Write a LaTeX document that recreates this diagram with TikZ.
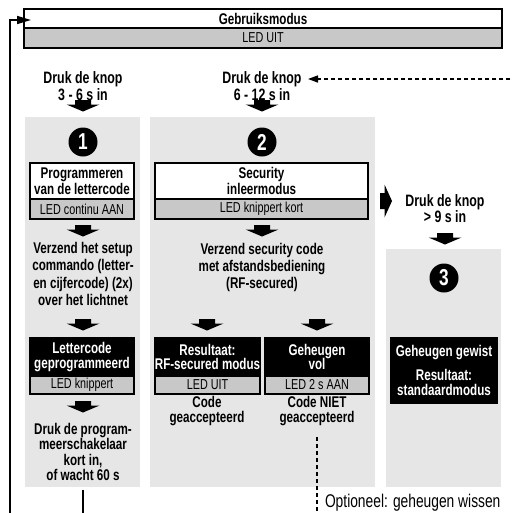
\documentclass[tikz,border=0pt]{standalone}
\usepackage{fontspec}
\setmainfont{Liberation Sans}[FakeStretch=0.75]
\usetikzlibrary{arrows.meta}
\definecolor{panelgray}{HTML}{E6E6E6}
\definecolor{ledgray}{HTML}{C8C8C8}
\newcommand\txtb[1]{\fontsize{15.5}{#1}\selectfont\bfseries}
\newcommand\txtk[1]{\fontsize{16.5}{#1}\selectfont\bfseries}
\newcommand\txtr{\fontsize{14.4}{15}\selectfont}
\begin{document}
\begin{tikzpicture}[x=1pt,y=-1pt,
 every node/.style={inner sep=0pt, outer sep=0pt},
 panel/.style={fill=panelgray},
 whitebox/.style={draw, line width=1.3pt, fill=white, align=center, font=\txtb{13.8}},
 blackbox/.style={draw, line width=1.3pt, fill=black, text=white, align=center, font=\txtb{14.8}},
 ledbox/.style={draw, line width=1.3pt, fill=ledgray, font=\txtr},
 txt/.style={align=center, font=\txtb{#1}},
 ktxt/.style={align=center, font=\txtk{#1}},
 numcirc/.style={circle, fill=black, text=white, minimum size=29pt, font=\fontsize{23}{23}\selectfont\bfseries},
 fb/.style={line width=1.6pt},
 dashline/.style={line width=1.5pt, dash pattern=on 4pt off 3pt},
 dnarrow/.pic={\fill (-8,0) -- (8,0) -- (8,4.5) -- (16.5,4.5) -- (0,11.5) -- (-16.5,4.5) -- (-8,4.5) -- cycle;},
 rtarrow/.pic={\fill (0,-8) -- (0,8) -- (4.5,8) -- (4.5,16.5) -- (12,0) -- (4.5,-16.5) -- (4.5,-8) -- cycle;}
]
\useasboundingbox (0,0) rectangle (513,512);

% panels
\node[panel, minimum width=115, minimum height=370] (p1) at (82.5,302) {};
\node[panel, minimum width=225, minimum height=370] (p2) at (262.5,302) {};
\node[panel, minimum width=115, minimum height=238] (p3) at (443.5,368) {};

% top mode
\node[whitebox, minimum width=478, minimum height=19] (gebr) at (263,18.5) {Gebruiksmodus};
\node[ledbox, minimum width=478, minimum height=20, anchor=north] (gebrled) at (gebr.south) {LED UIT};

% press texts
\node[ktxt=14.3] (k1) at (83,86) {Druk de knop\\3 - 6 s in};
\node[ktxt=14.3] (k2) at (262,86) {Druk de knop\\6 - 12 s in};
\node[ktxt=16] (k3) at (445,209) {Druk de knop\\> 9 s in};
\pic at (83,100) {dnarrow};
\pic at (262,100) {dnarrow};
\pic at (380,201) {rtarrow};
\pic at (445,233) {dnarrow};

% numbers
\node[numcirc] (n1) at (83,142) {1};
\node[numcirc] (n2) at (262,142) {2};
\node[numcirc] (n3) at (444,278) {3};

% column 1
\node[whitebox, minimum width=104, minimum height=36] (prog) at (82,181) {Programmeren\\van de lettercode};
\node[ledbox, minimum width=104, minimum height=20, anchor=north] (progled) at (prog.south) {LED continu AAN};
\pic at (83,225) {dnarrow};
\node[txt=17.3] (v1) at (83,274) {Verzend het setup\\commando (letter-\\en cijfercode) (2x)\\over het lichtnet};
\pic at (83,319) {dnarrow};
\node[blackbox, minimum width=104, minimum height=38] (lc) at (82,357) {Lettercode\\geprogrammeerd};
\node[ledbox, minimum width=104, minimum height=18, anchor=north] (lcled) at (lc.south) {LED knippert};
\pic at (83,401) {dnarrow};
\node[txt=15.5] (w) at (83,452) {Druk de program-\\meerschakelaar\\kort in,\\of wacht 60 s};

% column 2
\node[whitebox, minimum width=213, minimum height=36] (sec) at (261.5,181) {Security\\inleermodus};
\node[ledbox, minimum width=213, minimum height=20, anchor=north] (secled) at (sec.south) {LED knippert kort};
\pic at (262,225) {dnarrow};
\node[txt=17] (v2) at (262,267) {Verzend security code\\met afstandsbediening\\(RF-secured)};
\pic at (207,319) {dnarrow};
\pic at (317,319) {dnarrow};
\node[blackbox, minimum width=105, minimum height=38] (res) at (207.5,357) {Resultaat:\\RF-secured modus};
\node[ledbox, minimum width=105, minimum height=18, anchor=north] (resled) at (res.south) {LED UIT};
\node[blackbox, minimum width=104, minimum height=38] (gv) at (317,357) {Geheugen\\vol};
\node[ledbox, minimum width=104, minimum height=18, anchor=north] (gvled) at (gv.south) {LED 2 s AAN};
\node[txt=15] (c1) at (207,411) {Code\\geaccepteerd};
\node[txt=15] (c2) at (317,411) {Code NIET\\geaccepteerd};

% column 3
\node[blackbox, minimum width=106, minimum height=65] (gg) at (444,370.5) {Geheugen gewist\\[9pt]Resultaat:\\standaardmodus};

% optional text
\node[anchor=west, font=\fontsize{18.4}{18}\selectfont] (opt) at (325,503) {Optioneel: geheugen wissen};

% feedback connectors
\coordinate (fbtip) at (31,20);
\draw[fb, -{Triangle[length=14pt,width=8pt]}, shorten <=9pt] (w.south) -- (w.south |- 0,530) -| (10,20) -- (fbtip);
\coordinate (dtip) at (308,79);
\draw[dashline, -{Triangle[length=10pt,width=7pt]}, shorten <=11pt] (c2.south) -- (c2.south |- 0,530) -| (530,79) -- (dtip);
\end{tikzpicture}
\end{document}
